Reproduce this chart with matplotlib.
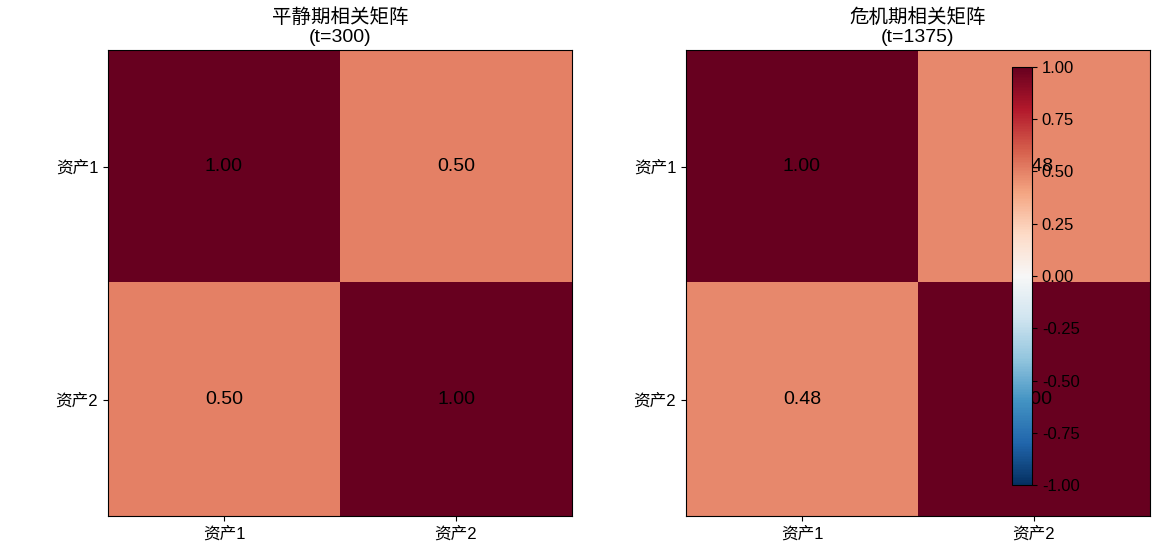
import numpy as np
import matplotlib
matplotlib.use("Agg")
import matplotlib.pyplot as plt

plt.rcParams['font.family'] = ['Liberation Sans', 'Noto Sans CJK SC', 'DejaVu Sans']
plt.rcParams['axes.unicode_minus'] = False

assets = ['资产1', '资产2']
calm_corr = np.array([[1.00, 0.50], [0.50, 1.00]])
crisis_corr = np.array([[1.00, 0.48], [0.48, 1.00]])
titles = ['平静期相关矩阵\n(t=300)', '危机期相关矩阵\n(t=1375)']

fig = plt.figure(figsize=(11.7, 5.46), dpi=100)
ax1 = fig.add_axes([0.0923, 0.0549, 0.3966, 0.8535])
ax2 = fig.add_axes([0.5863, 0.0549, 0.3966, 0.8535])

for ax, corr, title in zip([ax1, ax2], [calm_corr, crisis_corr], titles):
    im = ax.imshow(corr, cmap='RdBu_r', vmin=-1, vmax=1, aspect='auto')
    ax.set_xticks(range(len(assets)))
    ax.set_yticks(range(len(assets)))
    ax.set_xticklabels(assets, fontsize=12)
    ax.set_yticklabels(assets, fontsize=12)
    ax.set_title(title, fontsize=14, linespacing=1.1)
    for i in range(corr.shape[0]):
        for j in range(corr.shape[1]):
            ax.text(j, i, f'{corr[i, j]:.2f}', ha='center', va='center',
                    fontsize=14, color='black')

cax = fig.add_axes([0.865, 0.1117, 0.0171, 0.7656])
cb = fig.colorbar(im, cax=cax)
cb.ax.tick_params(labelsize=12)
cb.set_ticks(np.arange(-1, 1.01, 0.25))
cb.ax.set_yticklabels([f'{v:.2f}' for v in np.arange(-1, 1.01, 0.25)])

fig.savefig('out.png', dpi=100)
